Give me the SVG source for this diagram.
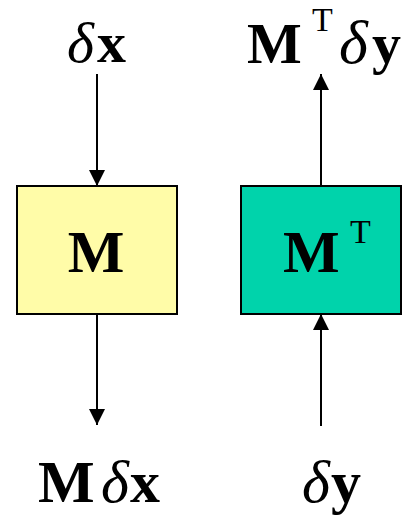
<svg xmlns="http://www.w3.org/2000/svg" width="402" height="515" viewBox="0 0 402 515">
<style>
.t{font-family:"Liberation Serif","Times New Roman",serif;font-size:58px;fill:#000}
.L{font-size:60px}
.D{font-size:62px}
.b{font-weight:bold}
.i{font-style:italic}
.s{font-size:34px}
.box{stroke:#000;stroke-width:2}
.ln{stroke:#000;stroke-width:2;fill:none}
</style>
<defs>
<marker id="ah" markerUnits="userSpaceOnUse" markerWidth="16" markerHeight="16" refX="16" refY="8" orient="auto">
<path d="M0,0 L16,8 L0,16 z" fill="#000"/>
</marker>
</defs>
<rect width="402" height="515" fill="#fff"/>
<g id="connectors">
<line class="ln" x1="97" y1="74" x2="97" y2="186" marker-end="url(#ah)"/>
<line class="ln" x1="97" y1="314" x2="97" y2="425" marker-end="url(#ah)"/>
<line class="ln" x1="321" y1="186" x2="321" y2="74" marker-end="url(#ah)"/>
<line class="ln" x1="321" y1="426" x2="321" y2="314" marker-end="url(#ah)"/>
</g>
<g id="nodeM">
<rect class="box" x="17" y="186" width="160" height="128" fill="#FFFCA8"/>
<text class="t L b" x="96" y="272" text-anchor="middle">M</text>
</g>
<g id="nodeMT">
<rect class="box" x="241" y="186" width="160" height="128" fill="#00D3AB"/>
<text class="t L b" x="283" y="272">M</text>
<text class="t s" x="350" y="243">T</text>
</g>
<g id="label-dx">
<text class="t i" x="67" y="62">δ</text>
<text class="t b" x="97" y="62">x</text>
</g>
<g id="label-MTdy">
<text class="t b" x="247" y="63">M</text>
<text class="t s" x="312" y="31">T</text>
<text class="t D i" x="339" y="63">δ</text>
<text class="t b" x="372" y="63">y</text>
</g>
<g id="label-Mdx">
<text class="t L b" x="38" y="502">M</text>
<text class="t L i" x="101" y="502">δ</text>
<text class="t L b" x="130" y="502">x</text>
</g>
<g id="label-dy">
<text class="t L i" x="302" y="502">δ</text>
<text class="t L b" x="331" y="502">y</text>
</g>
</svg>
